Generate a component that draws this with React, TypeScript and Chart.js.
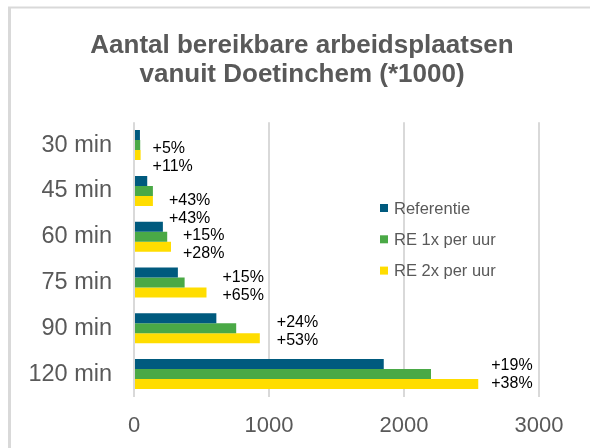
import React, { useEffect, useRef } from "react";
import { Chart, registerables } from "chart.js";

Chart.register(...registerables);

const categories = ["30 min", "45 min", "60 min", "75 min", "90 min", "120 min"];
const referentie = [44, 98, 214, 325, 610, 1850];
const re1x = [46, 140, 246, 375, 757, 2200];
const re2x = [49, 140, 274, 537, 932, 2550];
const pct1x = ["+5%", "+43%", "+15%", "+15%", "+24%", "+19%"];
const pct2x = ["+11%", "+43%", "+28%", "+65%", "+53%", "+38%"];
const seriesNames = ["Referentie", "RE 1x per uur", "RE 2x per uur"];
const colors = ["#005A7E", "#4AA946", "#FFDD00"];
const xTicks = [0, 1000, 2000, 3000];
const titleLines = ["Aantal bereikbare arbeidsplaatsen", "vanuit Doetinchem (*1000)"];

// label placement offsets (annotation styling, relative to bar end / category centre)
const labelDx = [12, 16, 12, 16, 17, 13];
const labelDy = [4, 10, -1, -5, -6, -9];

const FONT = "'Liberation Sans', Arial, sans-serif";
const GREY = "#595959";

const framePlugin = {
  id: "frame",
  beforeDraw(chart: any) {
    const ctx = chart.ctx;
    ctx.save();
    ctx.fillStyle = "#ffffff";
    ctx.fillRect(0, 0, chart.width, chart.height);
    ctx.strokeStyle = "#d9d9d9";
    ctx.lineWidth = 2;
    ctx.beginPath();
    ctx.moveTo(8, 7.5);
    ctx.lineTo(chart.width, 7.5);
    ctx.stroke();
    ctx.lineWidth = 3;
    ctx.beginPath();
    ctx.moveTo(9.5, 7);
    ctx.lineTo(9.5, chart.height);
    ctx.stroke();
    ctx.restore();
  },
};

const labelPlugin = {
  id: "pctLabels",
  afterDatasetsDraw(chart: any) {
    const ctx = chart.ctx;
    const yScale = chart.scales.y;
    const meta = chart.getDatasetMeta(2);
    ctx.save();
    ctx.font = `16px ${FONT}`;
    ctx.fillStyle = "#000000";
    ctx.textAlign = "left";
    ctx.textBaseline = "middle";
    categories.forEach((_, i) => {
      const bar = meta.data[i];
      const x = bar.x + labelDx[i];
      const yc = yScale.getPixelForValue(i) + labelDy[i];
      ctx.fillText(pct1x[i], x, yc);
      ctx.fillText(pct2x[i], x, yc + 18);
    });
    ctx.restore();
  },
};

const legendPlugin = {
  id: "customLegend",
  afterDatasetsDraw(chart: any) {
    const ctx = chart.ctx;
    const x = 380;
    const y0 = 208;
    const step = 31.3;
    ctx.save();
    ctx.font = `16.5px ${FONT}`;
    ctx.textAlign = "left";
    ctx.textBaseline = "middle";
    chart.data.datasets.forEach((ds: any, i: number) => {
      const y = y0 + i * step;
      ctx.fillStyle = ds.backgroundColor;
      ctx.fillRect(x, y - 4, 8, 8);
      ctx.fillStyle = GREY;
      ctx.fillText(ds.label, x + 14, y + 1);
    });
    ctx.restore();
  },
};

export default function App() {
  const ref = useRef<HTMLCanvasElement>(null);
  useEffect(() => {
    if (!ref.current) return;
    const chart = new Chart(ref.current, {
      type: "bar",
      data: {
        labels: categories,
        datasets: [referentie, re1x, re2x].map((d, i) => ({
          label: seriesNames[i],
          data: d,
          backgroundColor: colors[i],
          borderWidth: 0,
          categoryPercentage: 0.655,
          barPercentage: 1,
        })),
      },
      options: {
        indexAxis: "y",
        responsive: false,
        animation: false,
        layout: { padding: { left: 14, right: 0, top: 0, bottom: 0 } },
        plugins: {
          legend: { display: false },
          tooltip: { enabled: false },
          title: {
            display: true,
            text: titleLines,
            color: GREY,
            font: { family: FONT, size: 26, weight: "bold", lineHeight: 1.09 },
            padding: { top: 32, bottom: 33.5 },
          },
        },
        scales: {
          x: {
            min: 0,
            max: 3000,
            afterBuildTicks(scale: any) {
              scale.ticks = xTicks.map((v) => ({ value: v }));
            },
            afterFit(scale: any) {
              scale.paddingRight = 51;
              scale.height = 51;
            },
            grid: { color: "#d9d9d9", lineWidth: 2, drawTicks: false },
            border: { display: false },
            ticks: {
              color: GREY,
              font: { family: FONT, size: 22 },
              padding: 16,
              callback: (v: any) => String(v),
            },
          },
          y: {
            afterFit(scale: any) {
              scale.width = 120;
            },
            grid: { display: false, drawTicks: false },
            border: { display: false },
            ticks: {
              color: GREY,
              font: { family: FONT, size: 23.5 },
              padding: 22,
            },
          },
        },
      },
      plugins: [framePlugin, labelPlugin, legendPlugin],
    });
    return () => chart.destroy();
  }, []);
  return (
    <div style={{ position: "absolute", left: 0, top: 0, width: 590, height: 448 }}>
      <canvas ref={ref} width={590} height={448} />
    </div>
  );
}
